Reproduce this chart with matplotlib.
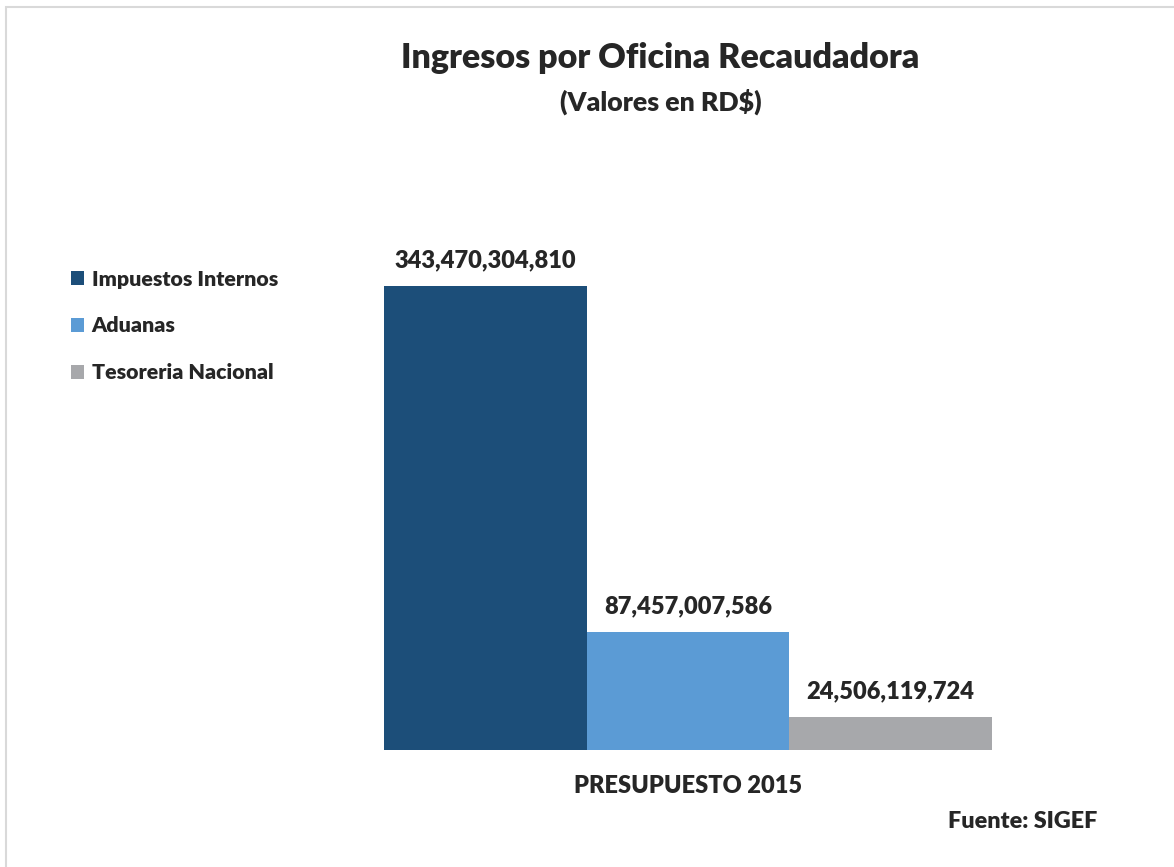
import matplotlib
matplotlib.use("Agg")
from matplotlib import pyplot as plt
from matplotlib.patches import Rectangle

# data
oficinas = ['Impuestos Internos', 'Aduanas', 'Tesoreria Nacional']
valores = [343470304810, 87457007586, 24506119724]
colores = ['#1C4E79', '#5B9BD5', '#A7A8AB']
categoria = 'PRESUPUESTO 2015'

plt.rcParams['font.family'] = ['Lato', 'DejaVu Sans']
peso = 800
txt = '#262626'

W, H = 1174, 867
fig = plt.figure(figsize=(W/100, H/100), dpi=100)

# light border of the chart area
fig.patches.append(Rectangle((6/W, -0.05), 1.2, 1 - 7/H + 0.05, transform=fig.transFigure,
                             fill=False, edgecolor='#d9d9d9', linewidth=1.5))

ax = fig.add_axes([384/W, 1 - 750/H, (992-384)/W, (750-180)/H])
x = list(range(len(valores)))
bars = ax.bar(x, valores, width=1.0, color=colores, label=oficinas)
ax.set_xlim(-0.5, len(valores) - 0.5)
ax.set_ylim(0, valores[0] * (750-180) / (750-286))
ax.axis('off')

for b, v in zip(bars, valores):
    ax.annotate('{:,}'.format(v), (b.get_x() + b.get_width()/2, v),
                xytext=(0, 19), textcoords='offset pixels', ha='center', va='baseline',
                fontsize=17, fontweight=peso, color=txt)

fig.text(660/W, 1 - 58/H, 'Ingresos por Oficina Recaudadora', ha='center', va='center',
         fontsize=24.5, fontweight=peso, color=txt)
fig.text(661/W, 1 - 102/H, '(Valores en RD$)', ha='center', va='center',
         fontsize=19.3, fontweight=peso, color=txt)
fig.text(688/W, 1 - 786/H, categoria, ha='center', va='center',
         fontsize=17, fontweight=peso, color=txt)
fig.text(1097/W, 1 - 822/H, 'Fuente: SIGEF', ha='right', va='center',
         fontsize=16.8, fontweight=peso, color=txt)

leg = fig.legend(handles=list(bars), labels=oficinas, loc='center left',
                 bbox_to_anchor=(52/W, 1 - 326/H), frameon=False,
                 prop={'size': 15.4, 'weight': peso}, handlelength=0.6, handleheight=0.6,
                 handletextpad=0.35, labelspacing=1.3)
for t in leg.get_texts():
    t.set_color(txt)

fig.savefig('out.png', dpi=100)
